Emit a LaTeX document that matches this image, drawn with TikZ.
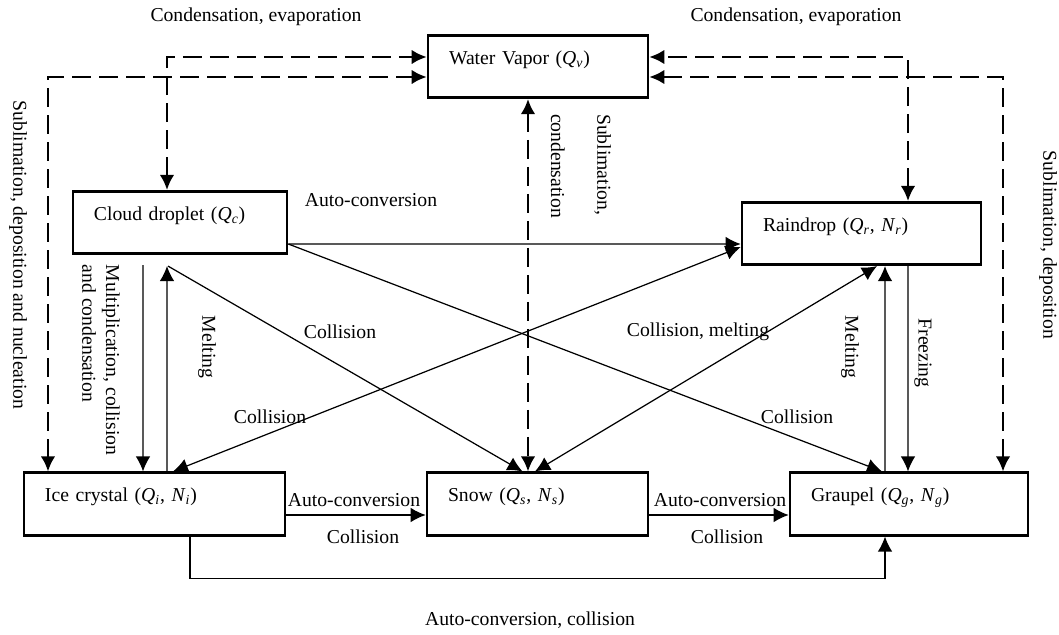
\documentclass[tikz,border=0pt]{standalone}
\usepackage{fontspec}
\setmainfont{Liberation Serif}
\usepackage{tikz}
\usetikzlibrary{arrows.meta,calc,positioning}

\newcommand{\qx}[2]{\textit{#1}\textsubscript{\textit{#2}}}

\begin{document}
\begin{tikzpicture}[x=0.2mm,y=-0.2mm,>={Latex[length=3mm,width=2.9mm]},font=\fontsize{11.2}{13.4}\selectfont]
	\tikzstyle{box} = [draw,rectangle,line width=1.5pt,align=left,inner xsep=4.2mm,text height=8pt,text depth=10.5pt,minimum height=12.5mm]
	\tikzstyle{flux} = [line width=1.3pt,dash pattern=on 3.8mm off 1.6mm,<->]
	\tikzstyle{flow} = [line width=0.7pt,->]
	\tikzstyle{vlabel} = [rotate=-90,align=left]
	\useasboundingbox (0,0) rectangle (1059,634);

	\node[box,text width=35.6mm] (vapor) at (538,66.5) {Water Vapor (\qx{Q}{v})};
	\node[box,text width=34.4mm] (cloud) at (180,222.5) {Cloud droplet (\qx{Q}{c})};
	\node[box,text width=39.4mm] (rain) at (861.5,233.5) {Raindrop (\qx{Q}{r}, \qx{N}{r})};
	\node[box,text width=43.8mm] (ice) at (154.5,504) {Ice crystal (\qx{Q}{i}, \qx{N}{i})};
	\node[box,text width=35.8mm] (snow) at (537.5,504) {Snow (\qx{Q}{s}, \qx{N}{s})};
	\node[box,text width=39.2mm] (graupel) at (909,504) {Graupel (\qx{Q}{g}, \qx{N}{g})};

	% exchanges with water vapor
	\draw[flux] ([xshift=-2.6mm]cloud.north) |- ([yshift=1.9mm]vapor.west);
	\draw[flux] ([xshift=-21.3mm]ice.north) |- ([yshift=-2.1mm]vapor.west);
	\draw[flux] ([xshift=9.3mm]rain.north) |- ([yshift=1.9mm]vapor.east);
	\draw[flux] ([xshift=18.8mm]graupel.north) |- ([yshift=-2.1mm]vapor.east);
	\draw[flux] ([xshift=-2mm]vapor.south) -- ([xshift=-1.9mm]snow.north);

	% conversions between hydrometeors
	\draw[flow] ([yshift=-4.3mm]cloud.east) -- ([yshift=-2.1mm]rain.west);
	\draw[flow] ([xshift=-7.4mm,yshift=-2mm]cloud.south) -- ([xshift=-2.3mm]ice.north);
	\draw[flow] ([xshift=2.5mm]ice.north) -- ([xshift=-2.6mm,yshift=-2.2mm]cloud.south);
	\draw[flow] ([xshift=-2.4mm,yshift=-2.2mm]cloud.south) -- ([xshift=-3mm]snow.north);
	\draw[flow] ([yshift=-4.3mm]cloud.east) -- ([xshift=-5.4mm]graupel.north);
	\draw[flow,<->] ([xshift=3.7mm]ice.north) -- ([yshift=-2.7mm]rain.west);
	\draw[flow,<->] ([xshift=-0.5mm]snow.north) -- ([xshift=3.1mm]rain.south);
	\draw[flow] ([xshift=-4.8mm]graupel.north) -- ([xshift=4.7mm]rain.south);
	\draw[flow] ([xshift=9.3mm]rain.south) -- ([xshift=-0.2mm]graupel.north);
	\draw[flow] ([yshift=-2.2mm]ice.east) -- ([yshift=-2.2mm]snow.west);
	\draw[flow] ([yshift=-2.2mm]snow.east) -- ([yshift=-2.2mm]graupel.west);
	\draw[flow] ([xshift=7.1mm]ice.south) -- ++(0,42) -| ([xshift=-4.8mm]graupel.south);

	% labels
	\node (condL) at (256,17) {Condensation, evaporation};
	\node (condR) at (796,17) {Condensation, evaporation};
	\node[vlabel] (subL) at (18,255) {Sublimation, deposition and nucleation};
	\node[vlabel] (subR) at (1048,245) {Sublimation, deposition};
	\node[vlabel] (subV) at (581,166) {Sublimation,\\[13pt]condensation};
	\node (autoCR) at (371,200) {Auto-conversion};
	\node[vlabel] (multCI) at (101,360) {Multiplication, collision\\and condensation};
	\node[vlabel] (meltIC) at (207,347) {Melting};
	\node (collCS) at (340,332) {Collision};
	\node (collIR) at (270,417) {Collision};
	\node (collSR) at (698,332) {Collision, melting};
	\node (collCG) at (797,417) {Collision};
	\node[vlabel] (meltGR) at (850,347) {Melting};
	\node[vlabel] (frzRG) at (923,353) {Freezing};
	\node (autoIS) at (354,500) {Auto-conversion};
	\node (collIS) at (363,537) {Collision};
	\node (autoSG) at (720,500) {Auto-conversion};
	\node (collSG) at (727,537) {Collision};
	\node (autoIG) at (530,620) {Auto-conversion, collision};
\end{tikzpicture}
\end{document}
